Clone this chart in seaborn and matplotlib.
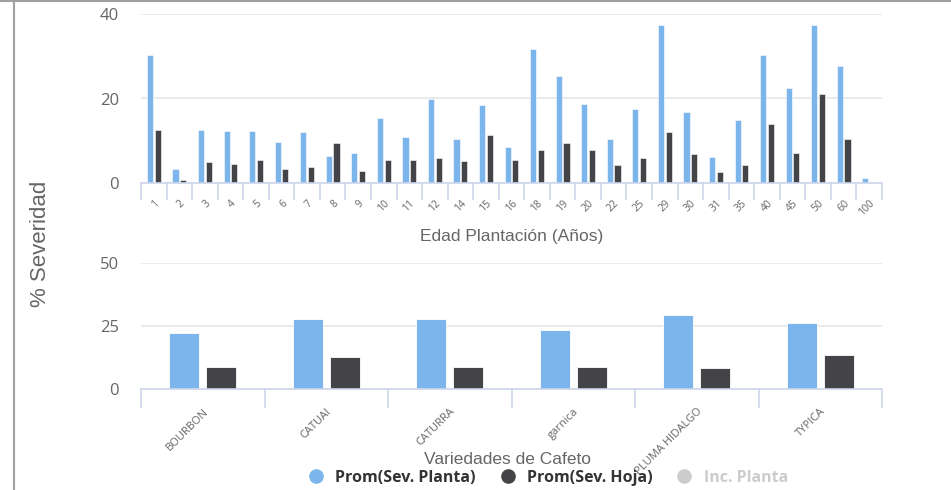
import matplotlib
matplotlib.use('Agg')
import matplotlib.pyplot as plt
import seaborn as sns
import pandas as pd
import numpy as np
from matplotlib.lines import Line2D

# ---------------- data ----------------
edades = ['1', '2', '3', '4', '5', '6', '7', '8', '9', '10', '11', '12', '14', '15', '16',
          '18', '19', '20', '22', '25', '29', '30', '31', '35', '40', '45', '50', '60', '100']
sev_planta_edad = [30.4, 3.2, 12.6, 12.3, 12.3, 9.8, 12.0, 6.5, 7.1, 15.3, 11.0, 19.8, 10.4, 18.5, 8.5,
                   31.8, 25.3, 18.8, 10.4, 17.5, 37.3, 16.8, 6.2, 14.9, 30.2, 22.4, 37.3, 27.6, 1.3]
sev_hoja_edad = [12.6, 0.6, 4.9, 4.6, 5.5, 3.3, 3.9, 9.4, 2.9, 5.5, 5.5, 5.8, 5.2, 11.4, 5.5,
                 7.8, 9.4, 7.8, 4.2, 5.8, 12.0, 6.8, 2.6, 4.2, 13.9, 7.1, 21.1, 10.4, 0.0]

variedades = ['BOURBON', 'CATUAI', 'CATURRA', 'garnica', 'PLUMA HIDALGO', 'TYPICA']
sev_planta_var = [22.4, 27.6, 27.6, 23.4, 29.2, 26.1]
sev_hoja_var = [8.7, 12.6, 8.7, 8.7, 8.3, 13.7]

series = ['Prom(Sev. Planta)', 'Prom(Sev. Hoja)', 'Inc. Planta']
colores = ['#7cb5ec', '#434348', '#cccccc']

top_yticks = [0, 20, 40]
bot_yticks = [0, 25, 50]

# ---------------- frames ----------------
df_edad = pd.DataFrame({
    'cat': edades * 2,
    'val': sev_planta_edad + sev_hoja_edad,
    'serie': [series[0]] * len(edades) + [series[1]] * len(edades),
})
df_var = pd.DataFrame({
    'cat': variedades * 2,
    'val': sev_planta_var + sev_hoja_var,
    'serie': [series[0]] * len(variedades) + [series[1]] * len(variedades),
})

sns.set_theme(style='white')
plt.rcParams['font.family'] = ['Liberation Sans', 'DejaVu Sans']

W, H = 951, 490
fig = plt.figure(figsize=(W / 100, H / 100), dpi=100)

def fx(px):
    return px / W

def fy(py):
    return 1 - py / H

ax1 = fig.add_axes([fx(141), fy(183), fx(882) - fx(141), fy(14) - fy(183)])
ax2 = fig.add_axes([fx(141), fy(389.3), fx(882) - fx(141), fy(262.7) - fy(389.3)])

AXC = '#ccd6eb'
GRID = '#e6e6e6'
LBL = '#666666'

def style(ax, cats, yticks, ticklen, lblsize, pad):
    n = len(cats)
    ax.set_xlim(-0.5, n - 0.5)
    ax.set_ylim(yticks[0], yticks[-1])
    ax.set_yticks(yticks)
    ax.set_yticklabels([str(t) for t in yticks], family='Open Sans', fontsize=12, color=LBL)
    ax.tick_params(axis='y', length=0, pad=16)
    for s in ['top', 'right', 'left']:
        ax.spines[s].set_visible(False)
    ax.spines['bottom'].set_color(AXC)
    ax.spines['bottom'].set_linewidth(1.2)
    ax.spines['bottom'].set_zorder(5)
    ax.yaxis.grid(True, color=GRID, linewidth=1.2)
    ax.xaxis.grid(False)
    ax.set_axisbelow(True)
    ax.set_xticks(np.arange(-0.5, n, 1), minor=True)
    ax.tick_params(axis='x', which='minor', length=ticklen, width=1.2, color=AXC, direction='out', bottom=True)
    ax.set_xticks(np.arange(n))
    ax.set_xticklabels(cats, rotation=45, ha='right', rotation_mode='anchor',
                       fontsize=lblsize, color=LBL, family='Open Sans')
    ax.tick_params(axis='x', which='major', length=0, pad=pad)
    ax.set_xlabel('')
    ax.set_ylabel('')

sns.barplot(data=df_edad, x='cat', y='val', hue='serie', order=edades, hue_order=series[:2],
            palette=colores[:2], width=0.6, gap=0.2, ax=ax1, legend=False,
            edgecolor='white', linewidth=0.4, saturation=1)
style(ax1, edades, top_yticks, 12, 7.5, 11)

sns.barplot(data=df_var, x='cat', y='val', hue='serie', order=variedades, hue_order=series[:2],
            palette=colores[:2], width=0.6, gap=0.2, ax=ax2, legend=False,
            edgecolor='white', linewidth=0.6, saturation=1)
style(ax2, variedades, bot_yticks, 14, 8, 12)

# axis titles
fig.text(fx(512), fy(236), 'Edad Plantación (Años)', ha='center', va='center', fontsize=12.5, color=LBL)
fig.text(fx(508), fy(459), 'Variedades de Cafeto', ha='center', va='center', fontsize=12.5, color=LBL)
fig.text(fx(40), fy(244), '% Severidad', rotation=90, ha='center', va='center', fontsize=16, color=LBL)

# frame lines (top and left)
fig.add_artist(Line2D([0, 1], [fy(0.8), fy(0.8)], color='#a0a0a0', linewidth=1.5, transform=fig.transFigure))
fig.add_artist(Line2D([fx(13.5), fx(13.5)], [0, 1], color='#a0a0a0', linewidth=1.5, transform=fig.transFigure))

# legend
handles = [Line2D([0], [0], marker='o', linestyle='', markersize=9.5,
                  markerfacecolor=c, markeredgecolor=c) for c in colores]
leg = fig.legend(handles, series, loc='center', bbox_to_anchor=(fx(548), fy(478)), ncol=3,
                 frameon=False, handlelength=1.0, handletextpad=0.7, columnspacing=1.5,
                 prop={'family': 'Open Sans', 'weight': 'bold', 'size': 11.5})
for t, c in zip(leg.get_texts(), ['#333333', '#333333', '#cccccc']):
    t.set_color(c)

fig.savefig('out.png', dpi=100)
